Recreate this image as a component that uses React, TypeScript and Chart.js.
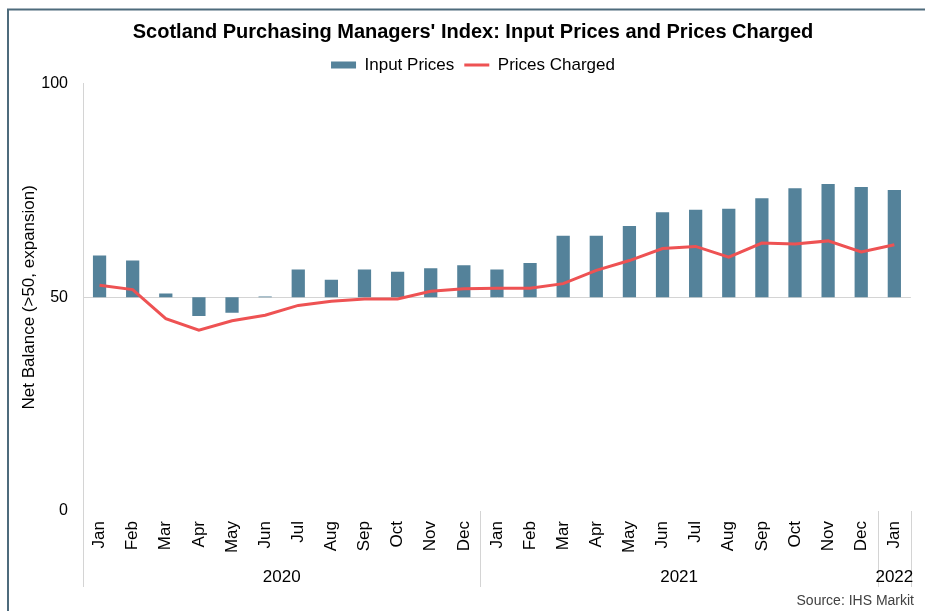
import React, { useEffect, useRef } from 'react';
import { Chart, registerables } from 'chart.js';

Chart.register(...registerables);

const months = ['Jan','Feb','Mar','Apr','May','Jun','Jul','Aug','Sep','Oct','Nov','Dec','Jan','Feb','Mar','Apr','May','Jun','Jul','Aug','Sep','Oct','Nov','Dec','Jan'];
const years = ['2020', '2021', '2022'];
const yearSpans = [12, 12, 1];
const inputPrices = [59.8, 58.6, 50.9, 45.6, 46.4, 50.2, 56.5, 54.1, 56.5, 56.0, 56.8, 57.5, 56.5, 58.0, 64.4, 64.4, 66.7, 69.9, 70.5, 70.7, 73.2, 75.5, 76.5, 75.8, 75.1];
const pricesCharged = [52.8, 51.8, 45.0, 42.3, 44.5, 45.8, 48.1, 49.1, 49.6, 49.6, 51.4, 52.0, 52.1, 52.1, 53.2, 56.3, 58.6, 61.4, 61.9, 59.4, 62.7, 62.5, 63.2, 60.6, 62.3];
const baseline = 50;
const yMin = 0;
const yMax = 100;
const yStep = 50;
const titleText = "Scotland Purchasing Managers' Index: Input Prices and Prices Charged";
const yTitleText = 'Net Balance (>50, expansion)';
const seriesNames = ['Input Prices', 'Prices Charged'];
const sourceText = 'Source: IHS Markit';

const FONT = "'Liberation Sans', Arial, Helvetica, sans-serif";
const BAR_COLOR = '#54829a';
const LINE_COLOR = '#ee5253';
const AXIS_GRAY = '#d4d4d4';

const extrasPlugin = {
  id: 'extras',
  afterDraw(chart: any) {
    const { ctx, chartArea, scales } = chart;
    const x = scales.x;
    const half = (x.getPixelForValue(1) - x.getPixelForValue(0)) / 2;
    ctx.save();
    // separators between year groups
    ctx.strokeStyle = AXIS_GRAY;
    ctx.lineWidth = 1;
    const bounds: number[] = [0];
    let acc = 0;
    yearSpans.forEach((s) => { acc += s; bounds.push(acc); });
    bounds.forEach((b) => {
      const px = Math.round(x.getPixelForValue(b) - half) + 0.5;
      ctx.beginPath();
      ctx.moveTo(px, chartArea.bottom);
      ctx.lineTo(px, 587);
      ctx.stroke();
    });
    // year labels
    ctx.fillStyle = '#000';
    ctx.font = `17px ${FONT}`;
    ctx.textAlign = 'center';
    ctx.textBaseline = 'middle';
    let start = 0;
    years.forEach((yr, i) => {
      const end = start + yearSpans[i] - 1;
      const cx = (x.getPixelForValue(start) + x.getPixelForValue(end)) / 2;
      ctx.fillText(yr, cx, 577);
      start += yearSpans[i];
    });
    // source
    ctx.font = `14px ${FONT}`;
    ctx.fillStyle = '#404040';
    ctx.textAlign = 'right';
    ctx.fillText(sourceText, 914, 601);
    // frame
    ctx.strokeStyle = '#4e6b7c';
    ctx.lineWidth = 2;
    ctx.strokeRect(8, 9.5, 960, 640);
    ctx.restore();
  },
};

export default function App() {
  const ref = useRef<HTMLCanvasElement | null>(null);

  useEffect(() => {
    if (!ref.current) return;
    Chart.defaults.font.family = FONT;
    Chart.defaults.color = '#000';
    const chart = new Chart(ref.current, {
      type: 'bar',
      data: {
        labels: months,
        datasets: [
          {
            type: 'bar',
            label: seriesNames[0],
            data: inputPrices.map((v) => [baseline, v]) as any,
            backgroundColor: BAR_COLOR,
            borderWidth: 0,
            barPercentage: 0.4,
            categoryPercentage: 1,
            order: 2,
          },
          {
            type: 'line',
            label: seriesNames[1],
            data: pricesCharged,
            borderColor: LINE_COLOR,
            backgroundColor: LINE_COLOR,
            borderWidth: 3,
            pointRadius: 0,
            tension: 0,
            order: 1,
          } as any,
        ],
      },
      options: {
        animation: false,
        responsive: false,
        devicePixelRatio: 1,
        layout: { padding: { left: 21, right: 0, top: 0, bottom: 0 } },
        plugins: {
          tooltip: { enabled: false },
          title: {
            display: true,
            text: titleText,
            color: '#000',
            font: { size: 20, weight: 'bold', family: FONT, lineHeight: 1.2 },
            padding: { top: 20, bottom: 2.6 },
          },
          legend: {
            display: true,
            labels: {
              usePointStyle: true,
              pointStyleWidth: 25,
              boxHeight: 7,
              padding: 10,
              color: '#000',
              font: { size: 17, family: FONT },
              generateLabels: () => [
                { text: seriesNames[0], fillStyle: BAR_COLOR, strokeStyle: BAR_COLOR, lineWidth: 0, pointStyle: 'rect', datasetIndex: 0, hidden: false } as any,
                { text: seriesNames[1], fillStyle: LINE_COLOR, strokeStyle: LINE_COLOR, lineWidth: 3, pointStyle: 'line', datasetIndex: 1, hidden: false } as any,
              ],
            },
          },
        },
        scales: {
          x: {
            type: 'category',
            grid: { display: false, drawTicks: false },
            border: { display: false },
            ticks: {
              autoSkip: false,
              maxRotation: 90,
              minRotation: 90,
              padding: 10,
              color: '#000',
              font: { size: 17, family: FONT },
            },
            afterFit: (s: any) => { s.height = 100; },
          },
          y: {
            min: yMin,
            max: yMax,
            position: 'left',
            ticks: {
              stepSize: yStep,
              padding: 15,
              color: '#000',
              font: { size: 16, family: FONT },
            },
            grid: {
              drawTicks: false,
              color: (c: any) => (c.tick && c.tick.value === baseline ? AXIS_GRAY : 'rgba(0,0,0,0)'),
            },
            border: { display: true, color: AXIS_GRAY, width: 1 },
            title: {
              display: true,
              text: yTitleText,
              color: '#000',
              font: { size: 17, family: FONT, lineHeight: 1 },
              padding: { top: 0, bottom: 0 },
            },
            afterFit: (s: any) => { s.width = 62; },
          },
          y2: {
            position: 'right',
            display: true,
            min: yMin,
            max: yMax,
            grid: { display: false, drawTicks: false },
            border: { display: false },
            ticks: { display: false },
            afterFit: (s: any) => { s.width = 13; },
          },
        },
      },
      plugins: [extrasPlugin],
    });
    return () => chart.destroy();
  }, []);

  return (
    <div style={{ position: 'absolute', left: 0, top: 0, width: 925, height: 611, overflow: 'hidden', background: '#fff' }}>
      <canvas ref={ref} width={925} height={611} style={{ display: 'block' }} />
    </div>
  );
}
